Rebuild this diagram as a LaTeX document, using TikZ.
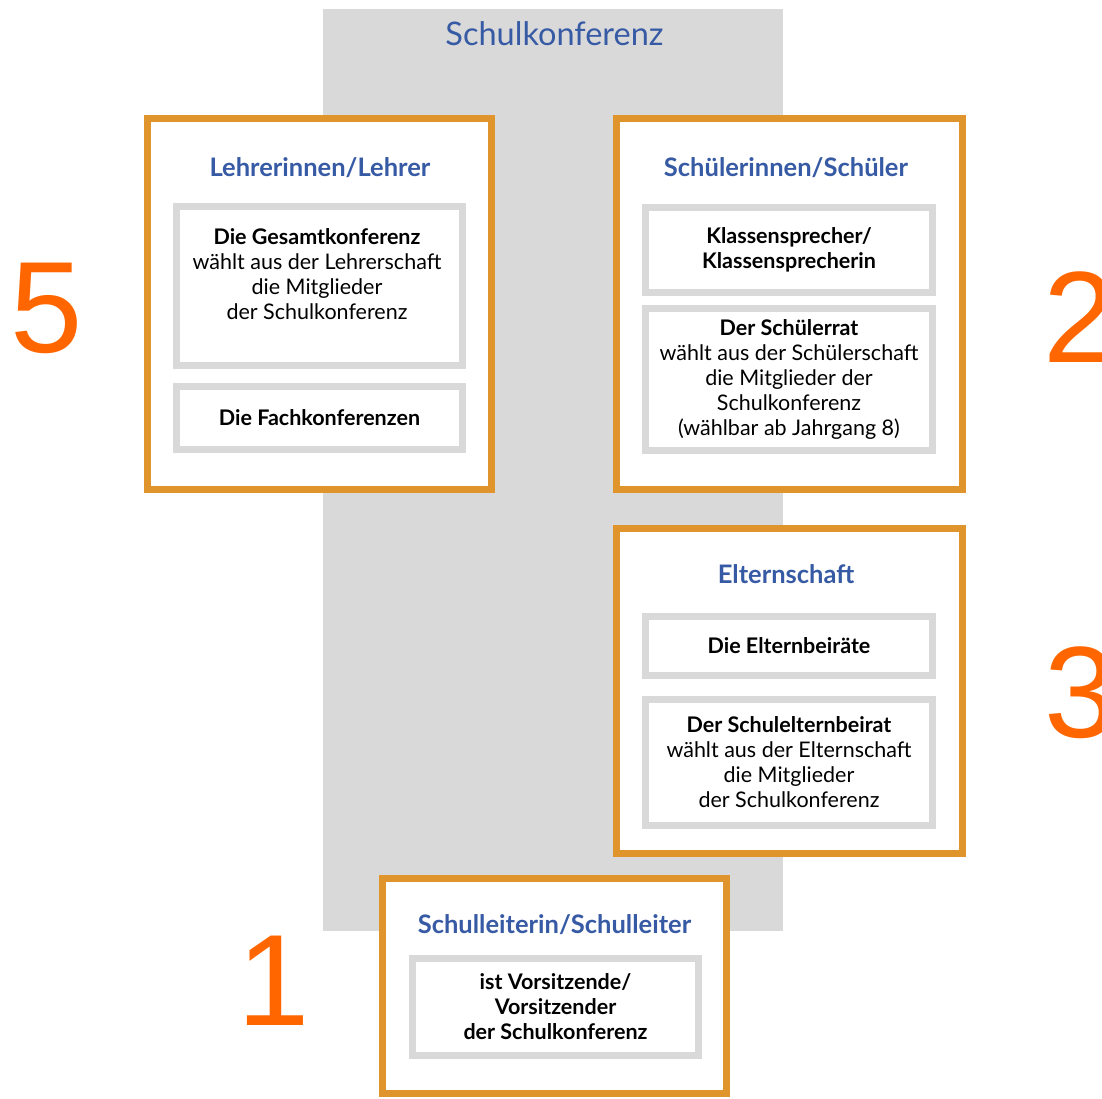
\documentclass[tikz,border=0pt]{standalone}
\usepackage{fontspec}
\setmainfont{Lato}
\newfontfamily\numfont{Liberation Sans}
\definecolor{panelgray}{RGB}{217,217,217}
\definecolor{grouporange}{RGB}{224,148,44}
\definecolor{headblue}{RGB}{55,90,165}
\definecolor{numorange}{RGB}{255,102,0}

\begin{document}
\begin{tikzpicture}[x=1pt,y=-1pt,
panel/.style={%
fill=panelgray,
minimum width=460,
minimum height=922,
inner sep=0pt
},
group/.style={%
draw=grouporange,
line width=7pt,
fill=white,
minimum width=344,
inner sep=0pt
},
txt/.style={%
align=center,
font=\fontsize{21.5}{25}\selectfont,
inner sep=0pt
},
item/.style={%
txt,
draw=panelgray,
line width=7pt,
fill=white,
minimum width=286
},
head/.style={%
text=headblue,
font=\fontsize{25.5}{30}\selectfont\bfseries
},
num/.style={%
text=numorange,
font=\numfont\fontsize{130}{130}\selectfont,
anchor=base,
inner sep=0pt
},
]
\useasboundingbox(0,0)rectangle(1102,1098);
\node[panel]at(553,470)(konferenz){};
\node[text=headblue,font=\fontsize{32.5}{36}\selectfont]at(554.5,34)(titel){Schulkonferenz};
%% Lehrer
\node[group,minimum height=371]at(319.5,304)(lehrer){};
\node[head]at(320,168)(lehrerkopf){Lehrerinnen/Lehrer};
\node[item,minimum height=159]at(319.5,286)(gesamt){};
\node[txt]at(317,274)(gesamttext){\textbf{Die Gesamtkonferenz}\\wählt aus der Lehrerschaft\\die Mitglieder\\der Schulkonferenz};
\node[item,minimum height=63]at(319.5,418)(fach){\textbf{Die Fachkonferenzen}};
%% Schueler
\node[group,minimum width=346,minimum height=371]at(789.5,304)(schueler){};
\node[head]at(786,168)(schuelerkopf){Schülerinnen/Schüler};
\node[item,minimum width=287,minimum height=85]at(789,250)(sprecher){\textbf{Klassensprecher/}\\\textbf{Klassensprecherin}};
\node[item,minimum width=287,minimum height=142]at(789,379)(rat){\textbf{Der Schülerrat}\\wählt aus der Schülerschaft\\die Mitglieder der\\Schulkonferenz\\(wählbar ab Jahrgang 8)};
%% Eltern
\node[group,minimum width=346,minimum height=325]at(789.5,691)(eltern){};
\node[head]at(786,574)(elternkopf){Elternschaft};
\node[item,minimum width=287,minimum height=59]at(789,646)(beiraete){\textbf{Die Elternbeiräte}};
\node[item,minimum width=287,minimum height=126]at(789,762.5)(schulbeirat){\textbf{Der Schulelternbeirat}\\wählt aus der Elternschaft\\die Mitglieder\\der Schulkonferenz};
%% Schulleitung
\node[group,minimum height=215]at(554.5,986)(leitung){};
\node[head]at(554.5,925)(leitungkopf){Schulleiterin/Schulleiter};
\node[item,minimum height=97]at(555.5,1007)(vorsitz){\textbf{ist Vorsitzende/}\\\textbf{Vorsitzender}\\\textbf{der Schulkonferenz}};
%% Zahlen
\node[num]at(47,352)(n5){5};
\node[num]at(1080,362)(n2){2};
\node[num]at(1081,737)(n3){3};
\node[num]at(274,1025)(n1){1};
\end{tikzpicture}
\end{document}
